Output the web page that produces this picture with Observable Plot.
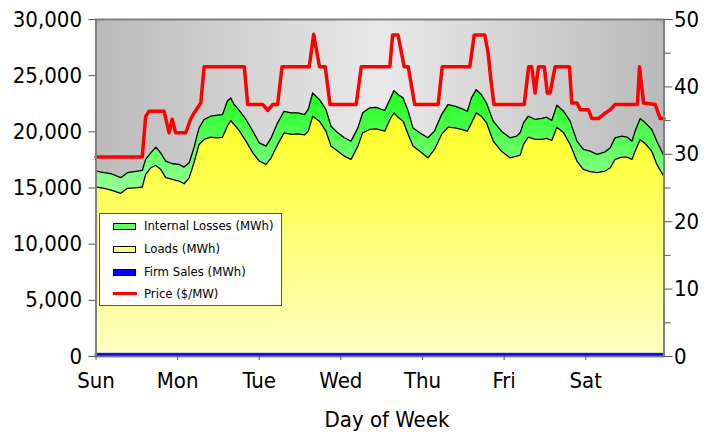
<!DOCTYPE html>
<html>
<head>
<meta charset="utf-8">
<script src="https://cdn.jsdelivr.net/npm/d3@7"></script>
<script src="https://cdn.jsdelivr.net/npm/@observablehq/plot@0.6"></script>
<style>
  html, body { margin: 0; padding: 0; background: #ffffff; }
  #wrap { position: relative; width: 715px; height: 435px; font-family: "DejaVu Sans Condensed", "Liberation Sans", sans-serif; }
  #legend { position: absolute; left: 99px; top: 213px; width: 183px; height: 93px; background: #ffffff; border: 1px solid #555; box-sizing: border-box; }
  .row { position: absolute; left: 0; height: 20px; line-height: 20px; font-size: 13px; color: #000; white-space: nowrap; }
  .sw { position: absolute; left: 13px; top: 7px; width: 21px; height: 5px; border: 1px solid #000; }
  .ln { position: absolute; left: 13px; top: 8px; width: 24px; height: 3px; background: #ff0000; }
  .lab { position: absolute; left: 44px; top: 0; }
</style>
</head>
<body>
<div id="wrap"></div>
<script>
// ---- data (hours since Sunday 00:00) ----
const days = ["Sun", "Mon", "Tue", "Wed", "Thu", "Fri", "Sat"];
const hours = [0, 2.4, 4.5, 7.3, 9.2, 12.2, 13.6, 14.6, 16.1, 17.6, 19, 20.5, 22.5, 24.4, 25.9, 27.4, 28.8, 30.3, 31.8, 33.7,
  35.7, 37.2, 38.6, 39.6, 40.6, 42, 44.1, 46.1, 48, 50, 51.5, 53.4, 55.3, 57.4, 59.4, 61.3, 62.4, 63.7, 65.7, 67.6,
  69.1, 71.1, 73, 75, 77, 78.4, 80.4, 82.4, 84.9, 86.4, 87.6, 88.8, 90.3, 91.8, 93.2, 95.2, 97.6, 99.5, 101.6, 103.5,
  105.5, 107.5, 109.2, 110.4, 111.8, 113.3, 114.8, 116.8, 119.2, 121.7, 123.7, 124.7, 125.7, 127.1, 129.1, 131.1, 132.5, 134, 135.5, 137.5,
  139.4, 141.4, 143.3, 145.3, 147.3, 149.7, 151.2, 152.6, 154.6, 156.1, 157.6, 158.5, 160, 161.5, 163.4, 164.9, 167];
const loads = [14840, 14720, 14570, 14280, 14720, 14780, 14840, 15960, 16550, 16760, 16410, 15670, 15520, 15370, 15130, 15670, 17000, 18630, 19070, 19280,
  19220, 19280, 20250, 20760, 20400, 19900, 18920, 17880, 17150, 16850, 17440, 18630, 19660, 19520, 19570, 19470, 19810, 21140, 20700, 19810,
  18480, 18030, 17590, 17300, 18480, 19660, 19960, 20020, 19810, 20850, 21440, 21050, 20700, 19520, 18480, 18030, 17440, 18180, 19520, 20160,
  20100, 19960, 19810, 20550, 21440, 21140, 20550, 18920, 18030, 17440, 17590, 17680, 18630, 19280, 19070, 19070, 19160, 18980, 20160, 19660,
  18630, 17150, 16410, 16200, 16110, 16260, 16550, 17300, 17500, 17500, 17300, 18030, 19070, 18690, 18030, 16850, 15750];
const internalLosses = [1420, 1390, 1450, 1390, 1390, 1480, 1470, 1340, 1330, 1630, 1470, 1480, 1390, 1480, 1480, 1330, 1330, 1470, 1780, 1860,
  2010, 2000, 2220, 2010, 1780, 1800, 1930, 1930, 1620, 1630, 1780, 1920, 1920, 1920, 1870, 1820, 1930, 2070, 1920, 1930,
  1770, 1630, 1630, 1620, 1620, 1780, 1920, 1910, 1840, 1770, 1980, 2020, 2070, 2060, 1620, 1630, 1780, 1630, 1770, 2020,
  1930, 1860, 1770, 2220, 2070, 1930, 1770, 1780, 1780, 1780, 1780, 1980, 1920, 1860, 1780, 1870, 1890, 1780, 1960, 1920,
  2070, 1770, 1770, 1830, 1630, 1710, 1780, 1920, 1870, 1780, 1620, 1780, 1870, 1860, 1930, 2070, 1840];
const firmSales = 250;

const priceHours = [0, 13.6, 14.6, 15.6, 20, 21.5, 22.4, 23.4, 26.4, 27.8, 28.8, 30.8, 31.8, 43.6, 44.6, 49, 50.5, 52, 53.4, 54.7,
  62.7, 64, 65.7, 67.4, 68.8, 76.5, 78, 86.4, 87.2, 88.8, 90.6, 91.8, 93.7, 100.6, 101.8, 109.9, 111.2, 114.3, 115.3, 116,
  117, 125.9, 127.2, 128.1, 129.1, 130.1, 131.8, 132.7, 133.5, 135, 139.2, 139.9, 141.4, 142.4, 144.8, 145.8, 147.7, 149.7, 151.2, 152.6,
  159.2, 159.8, 161, 164.4, 165.9, 167];
const prices = [29.6, 29.6, 35.6, 36.4, 36.4, 33.2, 35.2, 33.2, 33.2, 35.2, 36.1, 37.6, 43.0, 43.0, 37.4, 37.4, 36.5, 37.4, 37.4, 43.0,
  43.0, 47.8, 43.0, 43.0, 37.4, 37.4, 43.0, 43.0, 47.7, 47.7, 43.0, 43.0, 37.4, 37.4, 43.0, 43.0, 47.7, 47.7, 45.0, 41.5,
  37.4, 37.4, 43.0, 43.0, 39.1, 43.0, 43.0, 39.1, 39.1, 43.0, 43.0, 37.6, 37.6, 36.6, 36.6, 35.3, 35.3, 36.1, 36.6, 37.4,
  37.4, 43.0, 37.6, 37.4, 35.3, 35.3];

const leftTicks = [0, 5000, 10000, 15000, 20000, 25000, 30000];
const rightTicks = [0, 10, 20, 30, 40, 50];
const rightMinor = [5, 15, 25, 35, 45];
const priceMax = 50, mwhMax = 30000;
const k = mwhMax / priceMax; // price -> left-axis units

// ---- build table ----
const rows = hours.map((h, i) => ({
  h,
  f: firmSales,
  l: firmSales + loads[i],
  t: firmSales + loads[i] + internalLosses[i]
}));
const priceRows = priceHours.map((h, i) => ({h, p: prices[i]}));

const FONT = '"DejaVu Sans Condensed", "Liberation Sans", sans-serif';
const FS = 22;

const defs = () => {
  const d = d3.create("svg:defs");
  const bg = d.append("linearGradient").attr("id", "bgGrad").attr("x1", "0").attr("x2", "1").attr("y1", "0").attr("y2", "0");
  bg.append("stop").attr("offset", "0%").attr("stop-color", "#bababa");
  bg.append("stop").attr("offset", "50%").attr("stop-color", "#e9e9e9");
  bg.append("stop").attr("offset", "100%").attr("stop-color", "#bababa");
  const yl = d.append("linearGradient").attr("id", "yelGrad").attr("gradientUnits", "userSpaceOnUse")
    .attr("x1", 0).attr("x2", 0).attr("y1", 100).attr("y2", 356);
  yl.append("stop").attr("offset", "0%").attr("stop-color", "#ffff1a");
  yl.append("stop").attr("offset", "100%").attr("stop-color", "#ffffc6");
  const gr = d.append("linearGradient").attr("id", "grnGrad").attr("gradientUnits", "userSpaceOnUse")
    .attr("x1", 0).attr("x2", 0).attr("y1", 90).attr("y2", 185);
  gr.append("stop").attr("offset", "0%").attr("stop-color", "#1aff1a");
  gr.append("stop").attr("offset", "100%").attr("stop-color", "#90ff90");
  return d.node();
};

const chart = Plot.plot({
  width: 715,
  height: 435,
  marginLeft: 95.5,
  marginRight: 51.5,
  marginTop: 19,
  marginBottom: 79,
  style: {fontFamily: FONT, background: "#ffffff", color: "#000"},
  x: {domain: [0, 167]},
  y: {domain: [0, mwhMax]},
  marks: [
    defs,
    Plot.frame({fill: "url(#bgGrad)"}),
    Plot.areaY(rows, {x: "h", y1: "l", y2: "t", fill: "url(#grnGrad)"}),
    Plot.areaY(rows, {x: "h", y1: "f", y2: "l", fill: "url(#yelGrad)"}),
    Plot.areaY(rows, {x: "h", y1: 0, y2: "f", fill: "#0000ff", stroke: "#000080", strokeWidth: 0.6}),
    Plot.line(rows, {x: "h", y: "l", stroke: "#000", strokeWidth: 1.3}),
    Plot.line(rows, {x: "h", y: "t", stroke: "#000", strokeWidth: 1.3}),
    Plot.line(priceRows, {x: "h", y: d => d.p * k, stroke: "#ff0000", strokeWidth: 3.5, strokeLinejoin: "round"}),
    Plot.frame({stroke: "#808080", strokeWidth: 2}),
    Plot.axisY(leftTicks, {anchor: "left", tickFormat: d3.format(","), tickSize: 7, tickPadding: 7, fontSize: FS, label: null, stroke: "#555"}),
    Plot.axisY(rightTicks.map(v => v * k), {anchor: "right", tickFormat: d => String(Math.round(d / k)), tickSize: 8, tickPadding: 2, fontSize: FS, label: null, stroke: "#555"}),
    Plot.axisY(rightMinor.map(v => v * k), {anchor: "right", tickFormat: () => "", tickSize: 6, label: null, stroke: "#555"}),
    Plot.axisX(days.map((d, i) => i * 24), {tickFormat: (d, i) => days[i], tickSize: 4, tickPadding: 12, fontSize: FS, label: null, stroke: "#555"}),
    Plot.text(["Day of Week"], {frameAnchor: "bottom", dx: 7, dy: 70, fontSize: FS, fill: "#000"})
  ]
});

const wrap = document.getElementById("wrap");
wrap.appendChild(chart);

// legend
const legendItems = [
  {label: "Internal Losses (MWh)", type: "sw", color: "#66ff66"},
  {label: "Loads (MWh)", type: "sw", color: "#ffff80"},
  {label: "Firm Sales (MWh)", type: "sw", color: "#0000ff"},
  {label: "Price ($/MW)", type: "ln", color: "#ff0000"}
];
const rowTops = [2, 24.5, 47.5, 69.5];
const lg = document.createElement("div");
lg.id = "legend";
legendItems.forEach((it, i) => {
  const r = document.createElement("div");
  r.className = "row";
  r.style.top = rowTops[i] + "px";
  const s = document.createElement("span");
  s.className = it.type;
  s.style.background = it.color;
  r.appendChild(s);
  const t = document.createElement("span");
  t.className = "lab";
  t.textContent = it.label;
  r.appendChild(t);
  lg.appendChild(r);
});
wrap.appendChild(lg);
</script>
</body>
</html>
